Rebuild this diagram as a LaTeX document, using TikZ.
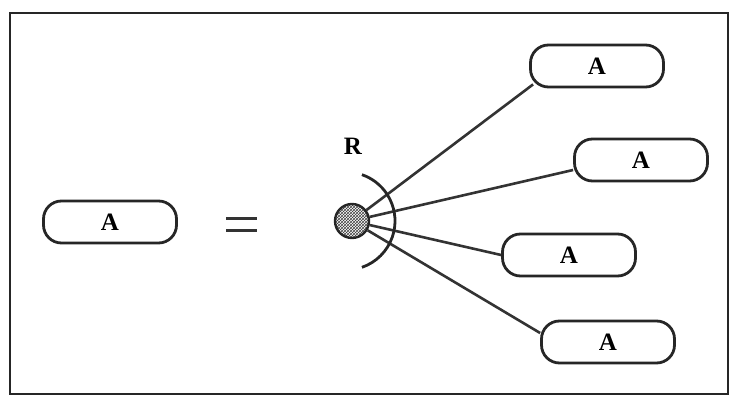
\documentclass[tikz,border=0pt]{standalone}
\usepackage{fontspec}
\setmainfont{Liberation Serif}
\usetikzlibrary{patterns}
\begin{document}
\begin{tikzpicture}[x=1pt,y=1pt,
  abox/.style={draw=black!85,line width=2.8pt,rounded corners=18pt,minimum width=133pt,minimum height=42pt,inner sep=0pt,font=\fontsize{25}{25}\selectfont\bfseries},
  link/.style={draw=black!80,line width=2.6pt}]
\useasboundingbox (0,0) rectangle (731,399);
\draw[black!85,line width=2.4pt] (10,5) rectangle (728,386);
\node[abox] (a0) at (110,177) {A};
\node[abox] (b1) at (597,333) {A};
\node[abox] (b2) at (641,239) {A};
\node[abox] (b3) at (569,144) {A};
\node[abox] (b4) at (608,57) {A};
\node (eq) at (241,174) {};
\draw[black!80,line width=3pt] (226,180) -- (257,180) (226,168) -- (257,168);
\node[circle,draw=black!85,line width=2.4pt,minimum size=34pt,inner sep=0pt,fill=gray!55,pattern=crosshatch,pattern color=black!75] (hub) at (352,178) {};
\node[font=\fontsize{25}{25}\selectfont\bfseries] (r) at (353,253) {R};
\draw[link] (hub) -- ([shift={(4pt,4pt)}]b1.south west);
\draw[link] (hub) -- ([yshift=-10pt]b2.west);
\draw[link] (hub) -- (b3.west);
\draw[link] (hub) -- ([yshift=9pt]b4.west);
\draw[black!85,line width=2.8pt] (346,178) ++(71:49) arc[start angle=71,end angle=-71,radius=49];
\end{tikzpicture}
\end{document}
